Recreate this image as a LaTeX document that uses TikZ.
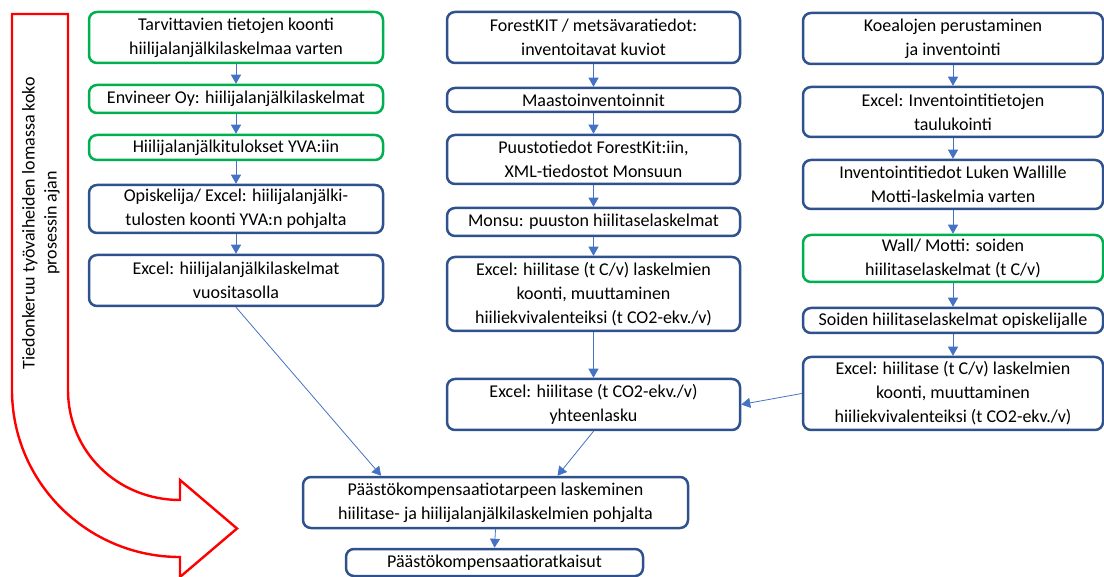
\documentclass[tikz,border=0pt]{standalone}
\usepackage{fontspec}
\setmainfont{Carlito}
\usetikzlibrary{arrows.meta,calc}
\definecolor{boxblue}{HTML}{2F528F}
\definecolor{boxgreen}{HTML}{00B050}
\definecolor{arrowblue}{HTML}{4472C4}

\begin{document}
\begin{tikzpicture}[x=1pt,y=-1pt,
	box/.style={draw, line width=2.5pt, rounded corners=8pt, fill=white,
		inner sep=0pt, align=center, font=\fontsize{18}{24}\selectfont},
	bluebox/.style={box, draw=boxblue},
	greenbox/.style={box, draw=boxgreen},
	flow/.style={arrowblue, line width=0.8pt, -{Triangle[width=10pt,length=9pt]}}]
	\useasboundingbox (0,0) rectangle (1104,577);

	% red arrow on the left
	\draw[red, line width=2.4pt, miter limit=10]
		(12,14) -- (68,14) -- (68,390) .. controls (68,452) and (118,500) .. (180,500)
		-- (180,480) -- (237,528.5) -- (180,577) -- (180,557)
		.. controls (87,557) and (12,482) .. (12,390) -- cycle;
	\node[rotate=90, align=center, font=\fontsize{18}{22}\selectfont] (info) at (41,223)
		{Tiedonkeruu työvaiheiden lomassa koko\\prosessin ajan};

	% left column
	\node[greenbox, minimum width=294, minimum height=51] (B1) at (236,37.5)
		{Tarvittavien tietojen koonti\\hiilijalanjälkilaskelmaa varten};
	\node[greenbox, minimum width=294, minimum height=28] (B2) at (236,99)
		{Envineer Oy: hiilijalanjälkilaskelmat};
	\node[greenbox, minimum width=294, minimum height=25] (B3) at (236,147.5)
		{Hiilijalanjälkitulokset YVA:iin};
	\node[bluebox, minimum width=294, minimum height=48] (B4) at (236,209)
		{Opiskelija/ Excel: hiilijalanjälki-\\tulosten koonti YVA:n pohjalta};
	\node[bluebox, minimum width=294, minimum height=51] (B5) at (236,280.5)
		{Excel: hiilijalanjälkilaskelmat\\vuositasolla};

	% middle column
	\node[bluebox, minimum width=293, minimum height=51] (M1) at (593.5,37.5)
		{ForestKIT / metsävaratiedot:\\inventoitavat kuviot};
	\node[bluebox, minimum width=293, minimum height=24] (M2) at (593.5,100)
		{Maastoinventoinnit};
	\node[bluebox, minimum width=293, minimum height=49] (M3) at (593.5,159.5)
		{Puustotiedot ForestKit:iin,\\XML-tiedostot Monsuun};
	\node[bluebox, minimum width=293, minimum height=28] (M4) at (593.5,222)
		{Monsu: puuston hiilitaselaskelmat};
	\node[bluebox, minimum width=293, minimum height=74] (M5) at (593.5,294)
		{Excel: hiilitase (t C/v) laskelmien\\koonti, muuttaminen\\hiiliekvivalenteiksi (t CO2-ekv./v)};
	\node[bluebox, minimum width=293, minimum height=51] (M6) at (593.5,404.5)
		{Excel: hiilitase (t CO2-ekv./v)\\yhteenlasku};

	% right column
	\node[bluebox, minimum width=300, minimum height=51] (R1) at (953,38.5)
		{Koealojen perustaminen\\ja inventointi};
	\node[bluebox, minimum width=300, minimum height=50] (R2) at (953,112)
		{Excel: Inventointitietojen\\taulukointi};
	\node[bluebox, minimum width=300, minimum height=49] (R3) at (953,184.5)
		{Inventointitiedot Luken Wallille\\Motti-laskelmia varten};
	\node[greenbox, minimum width=300, minimum height=47] (R4) at (953,258.5)
		{Wall/ Motti: soiden\\hiilitaselaskelmat (t C/v)};
	\node[bluebox, minimum width=300, minimum height=25] (R5) at (953,320.5)
		{Soiden hiilitaselaskelmat opiskelijalle};
	\node[bluebox, minimum width=300, minimum height=73] (R6) at (953,393.5)
		{Excel: hiilitase (t C/v) laskelmien\\koonti, muuttaminen\\hiiliekvivalenteiksi (t CO2-ekv./v)};

	% bottom
	\node[bluebox, minimum width=385, minimum height=51] (P1) at (495.5,502.5)
		{Päästökompensaatiotarpeen laskeminen\\hiilitase- ja hiilijalanjälkilaskelmien pohjalta};
	\node[bluebox, minimum width=297, minimum height=27] (P2) at (494.5,562.5)
		{Päästökompensaatioratkaisut};
	\coordinate (P1left) at ($(P1.north west)!0.205!(P1.north east)$);
	\coordinate (P1right) at ($(P1.north west)!0.66!(P1.north east)$);

	\foreach \a/\b in {B1/B2,B2/B3,B3/B4,B4/B5,M1/M2,M2/M3,M3/M4,M4/M5,M5/M6,
		R1/R2,R2/R3,R3/R4,R4/R5,R5/R6,P1/P2}
		\draw[flow] (\a.south) -- (\b.north);
	\draw[flow] (B5.south) -- (P1left);
	\draw[flow] (M6.south) -- (P1right);
	\draw[flow] (R6.west) -- (M6.east);
\end{tikzpicture}
\end{document}
